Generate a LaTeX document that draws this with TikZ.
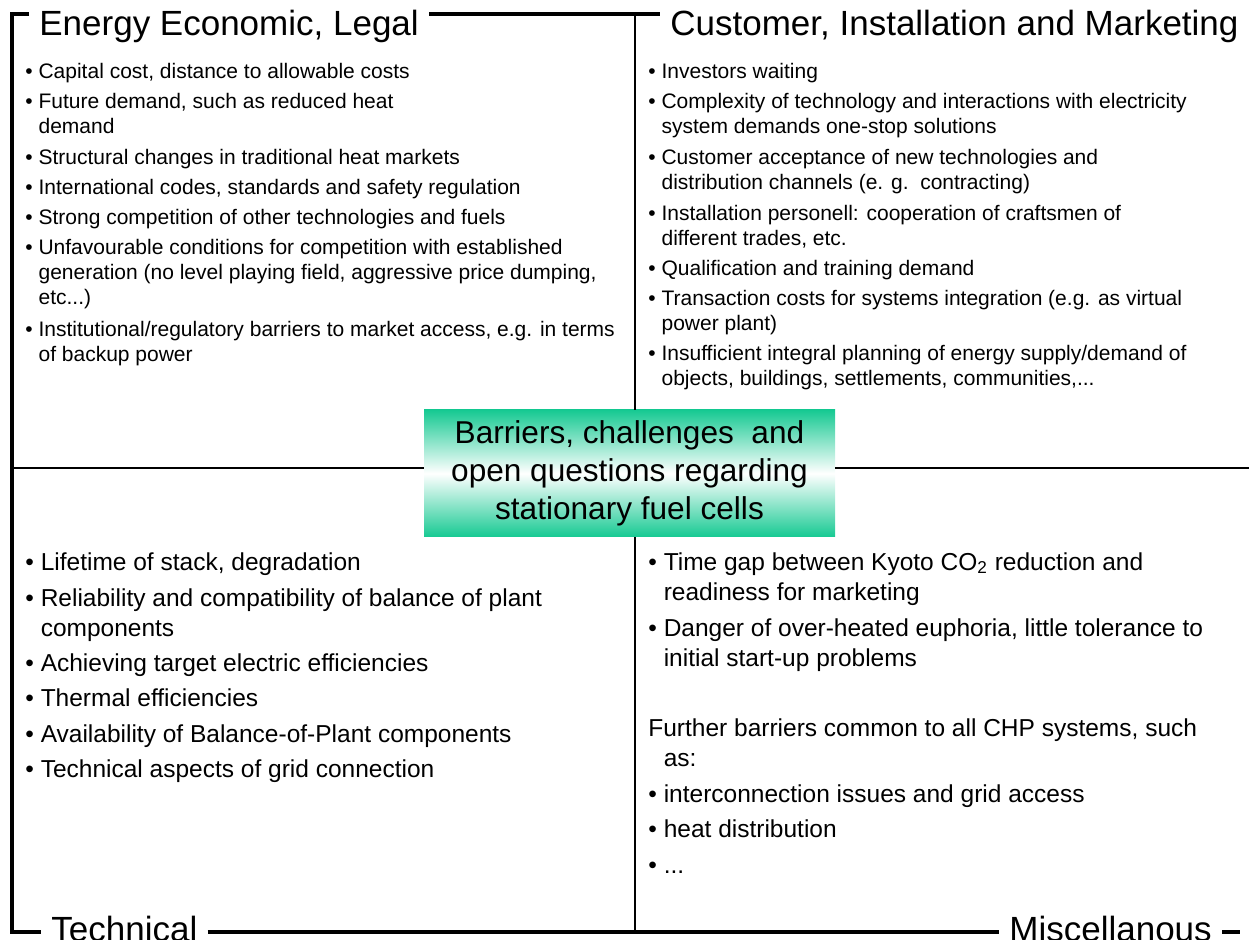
\documentclass[tikz,border=0pt]{standalone}
\usepackage{fontspec}
\setmainfont{Liberation Sans}
\definecolor{boxgreen}{RGB}{22,201,146}
\newcommand{\bul}{\textbullet\ }
\newcommand{\cont}{\phantom{\textbullet\ }}

\begin{document}
\begin{tikzpicture}[x=0.5pt,y=-0.5pt]
\tikzstyle{frame}=[line width=2pt]
\tikzstyle{divider}=[line width=1.25pt]
\tikzstyle{title}=[anchor=base west, inner xsep=5pt, inner ysep=0pt, font=\fontsize{17.5}{21}\selectfont]
\tikzstyle{small}=[anchor=north west, yshift=8.75pt, inner sep=0pt, align=left,
  execute at begin node=\strut, font=\fontsize{10.5}{12.5}\selectfont]
\tikzstyle{large}=[anchor=north west, yshift=10.5pt, inner sep=0pt, align=left,
  execute at begin node=\strut, font=\fontsize{12.25}{15}\selectfont]
\tikzstyle{core box}=[minimum width=205.5pt, minimum height=63.5pt, inner sep=0pt, align=center,
  top color=boxgreen, bottom color=boxgreen, middle color=white, font=\fontsize{15.8}{19}\selectfont]

\useasboundingbox (0,0) rectangle (1249,940);

\coordinate (nw) at (12,14);
\coordinate (sw) at (12,932);
\coordinate (se) at (1240,932);
\coordinate (top) at (635,14);
\coordinate (mid) at (12,468);
\coordinate (east) at (1249,468);

% titles
\node[title] (energy) at (29,36) {Energy Economic, Legal};
\node[title] (customer) at (660,36) {Customer, Installation and Marketing};
\node[title] (technical) at (41,942) {Technical};
\node[title] (misc) at (999,942) {Miscellanous};

\node[core box] (core) at (629.5,473.5) {Barriers, challenges\ \ and\\open questions regarding\\stationary fuel cells};

% frame
\draw[frame] (energy.west |- nw) -- (nw) -- (sw) -- (technical.west |- sw);
\draw[frame] (energy.east |- nw) -- (customer.west |- nw);
\draw[frame] (technical.east |- sw) -- (misc.west |- sw);
\draw[frame] (misc.east |- sw) -- (se);
\draw[divider] (top) -- (top |- core.north);
\draw[divider] (top |- core.south) -- (top |- sw);
\draw[divider] (mid) -- (mid -| core.west);
\draw[divider] (mid -| core.east) -- (east);

% energy economic, legal
\foreach \y/\txt in {78/{\bul Capital cost, distance to allowable costs},
  110/{\bul Future demand, such as reduced heat\\\cont demand},
  164/{\bul Structural changes in traditional heat markets},
  194/{\bul International codes, standards and safety regulation},
  224/{\bul Strong competition of other technologies and fuels},
  256/{\bul Unfavourable conditions for competition with established\\\cont generation (no level playing field, aggressive price dumping,\\\cont etc...)},
  338/{\bul Institutional/regulatory barriers to market access, e.g. in terms\\\cont of backup power}} {
\node[small] (econ\y) at (25,\y) {\txt};
}

% customer, installation and marketing
\foreach \y/\txt in {78/{\bul Investors waiting},
  110/{\bul Complexity of technology and interactions with electricity\\\cont system demands one-stop solutions},
  166/{\bul Customer acceptance of new technologies and\\\cont distribution channels (e. g.\ \ contracting)},
  222/{\bul Installation personell: cooperation of craftsmen of\\\cont different trades, etc.},
  275/{\bul Qualification and training demand},
  307/{\bul Transaction costs for systems integration (e.g. as virtual\\\cont power plant)},
  362/{\bul Insufficient integral planning of energy supply/demand of\\\cont objects, buildings, settlements, communities,...}} {
\node[small] (cust\y) at (648,\y) {\txt};
}

% technical
\foreach \y/\txt in {570/{\bul Lifetime of stack, degradation},
  609/{\bul Reliability and compatibility of balance of plant\\\cont components},
  671/{\bul Achieving target electric efficiencies},
  706/{\bul Thermal efficiencies},
  742/{\bul Availability of Balance-of-Plant components},
  777/{\bul Technical aspects of grid connection}} {
\node[large] (tech\y) at (25,\y) {\txt};
}

% miscellanous
\foreach \y/\txt in {573/{\bul Time gap between Kyoto CO\textsubscript{2} reduction and\\\cont readiness for marketing},
  639/{\bul Danger of over-heated euphoria, little tolerance to\\\cont initial start-up problems},
  739/{Further barriers common to all CHP systems, such\\\cont as:},
  802/{\bul interconnection issues and grid access},
  837/{\bul heat distribution},
  873/{\bul ...}} {
\node[large] (misc\y) at (648,\y) {\txt};
}

\end{tikzpicture}
\end{document}
